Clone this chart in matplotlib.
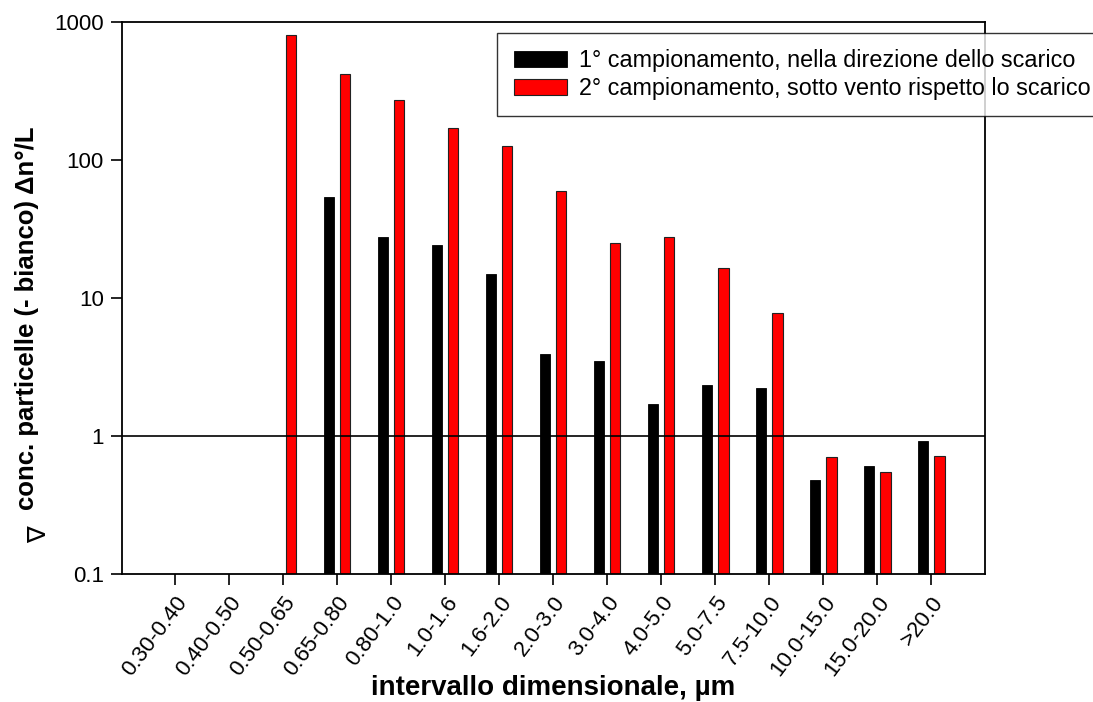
import numpy as np
import matplotlib.pyplot as plt

plt.rcParams['font.family'] = ['Liberation Sans', 'DejaVu Sans']

categories = ['0.30-0.40', '0.40-0.50', '0.50-0.65', '0.65-0.80', '0.80-1.0',
              '1.0-1.6', '1.6-2.0', '2.0-3.0', '3.0-4.0', '4.0-5.0', '5.0-7.5',
              '7.5-10.0', '10.0-15.0', '15.0-20.0', '>20.0']
camp1 = [np.nan, np.nan, np.nan, 54, 27.7, 24.2, 14.9, 3.93, 3.49, 1.71, 2.34,
         2.23, 0.48, 0.61, 0.925]
camp2 = [np.nan, np.nan, 810, 420, 272, 171, 126, 59.6, 25, 27.7, 16.5,
         7.8, 0.71, 0.546, 0.72]
labels = ['1° campionamento, nella direzione dello scarico',
          '2° campionamento, sotto vento rispetto lo scarico']

fig = plt.figure(figsize=(10.93, 7.02), dpi=100)
ax = fig.add_axes([0.1116, 0.1823, 0.79, 0.786])

x = np.arange(len(categories))
w = 0.19
ax.bar(x - 0.15, camp1, w, color='black', edgecolor='black', linewidth=0.6,
       label=labels[0], zorder=2)
ax.bar(x + 0.15, camp2, w, color='#ff0000', edgecolor='#222222', linewidth=0.8,
       label=labels[1], zorder=2)
ax.axhline(1, color='black', linewidth=1.2, zorder=3)

ax.set_yscale('log')
ax.set_ylim(0.1, 1000)
ax.set_xlim(-0.98, 15.0)
ax.set_yticks([0.1, 1, 10, 100, 1000])
ax.set_yticklabels(['0.1', '1', '10', '100', '1000'])
ax.minorticks_off()
ax.set_xticks(x)
ax.set_xticklabels(categories, rotation=53, ha='right', rotation_mode='anchor')
ax.tick_params(axis='both', direction='out', length=8, width=1.2, labelsize=16,
               colors='black')
ax.tick_params(axis='x', pad=5)
ax.tick_params(axis='y', pad=5)
for s in ax.spines.values():
    s.set_linewidth(1.3)

fig.text(0.506, 0.02, 'intervallo dimensionale, µm', fontsize=20,
         fontweight='bold', ha='center', va='center')
fig.text(0.025, 0.547, 'conc. particelle (- bianco) Δn°/L', rotation=90,
         fontsize=18.5, fontweight='bold', ha='center', va='center')
fig.text(0.035, 0.238, '∇', rotation=90, fontsize=18, ha='center', va='center',
         family=['DejaVu Sans'])

leg = fig.legend(loc='upper left', bbox_to_anchor=(0.455, 0.953), fontsize=16.8,
                 frameon=True, fancybox=False, edgecolor='black',
                 handlelength=2.3, handleheight=0.68, handletextpad=0.5,
                 borderpad=0.7, labelspacing=0.2, borderaxespad=0)
leg.get_frame().set_linewidth(1.0)

fig.savefig('out.png', dpi=100)
